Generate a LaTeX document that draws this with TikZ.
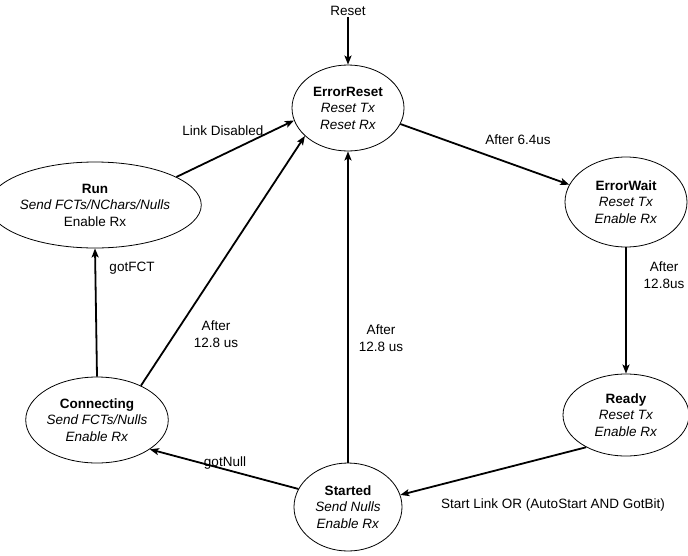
\documentclass[tikz,border=0pt]{standalone}
\usepackage{fontspec}
\setmainfont{Liberation Sans}
\usetikzlibrary{shapes.geometric,arrows.meta}
\begin{document}
\begin{tikzpicture}[x=1pt,y=-1pt,
  font=\fontsize{13.5}{16.5}\selectfont,
  state/.style={ellipse,draw,line width=0.8pt,inner sep=0pt,align=center},
  trans/.style={line width=1.8pt,-{Stealth[length=9pt,width=7pt,inset=2pt]}},
  lbl/.style={inner sep=1pt,align=center}]
\useasboundingbox (0,0) rectangle (688,555);
\node[state,minimum width=112pt,minimum height=86pt] (er) at (348,108)
  {\textbf{ErrorReset}\\\textit{Reset Tx}\\\textit{Reset Rx}};
\node[state,minimum width=176pt,minimum height=86pt] (run) at (95,205)
  {\textbf{Run}\\\textit{Send FCTs/NChars/Nulls}\\Enable Rx};
\node[state,minimum width=122pt,minimum height=90pt] (ew) at (626,202)
  {\textbf{ErrorWait}\\\textit{Reset Tx}\\\textit{Enable Rx}};
\node[state,minimum width=126pt,minimum height=82pt] (ready) at (626,415)
  {\textbf{Ready}\\\textit{Reset Tx}\\\textit{Enable Rx}};
\node[state,minimum width=108pt,minimum height=88pt] (st) at (348,507)
  {\textbf{Started}\\\textit{Send Nulls}\\\textit{Enable Rx}};
\node[state,minimum width=124pt,minimum height=86pt] (con) at (97,420)
  {\textbf{Connecting}\\\textit{Send FCTs/Nulls}\\\textit{Enable Rx}};

\node[lbl] (reset) at (348,11) {Reset};
\draw[trans] (reset) -- (er.north);
\draw[trans] (er.-17) -- (ew.163);
\node[lbl] (l1) at (518,140) {After 6.4us};
\draw[trans] (ew.south) -- (ready.north);
\node[lbl] (l2) at (664,275) {After\\12.8us};
\draw[trans] (ready.-141) -- (st.13);
\node[lbl] (l3) at (553,505) {Start Link OR (AutoStart AND GotBit)};
\draw[trans] (st.160) -- (con.-29);
\node[lbl] (l4) at (225,463) {gotNull};
\draw[trans] (con.north) -- (run.south);
\node[lbl] (l5) at (132,268) {gotFCT};
\draw[trans] (con.38) -- (er.-147);
\node[lbl] (l6) at (216,334) {After\\12.8 us};
\draw[trans] (st.north) -- (er.south);
\node[lbl] (l7) at (381,338) {After\\12.8 us};
\draw[trans] (run.19) -- (er.-167);
\node[lbl] (l8) at (223,131) {Link Disabled};
\end{tikzpicture}
\end{document}
